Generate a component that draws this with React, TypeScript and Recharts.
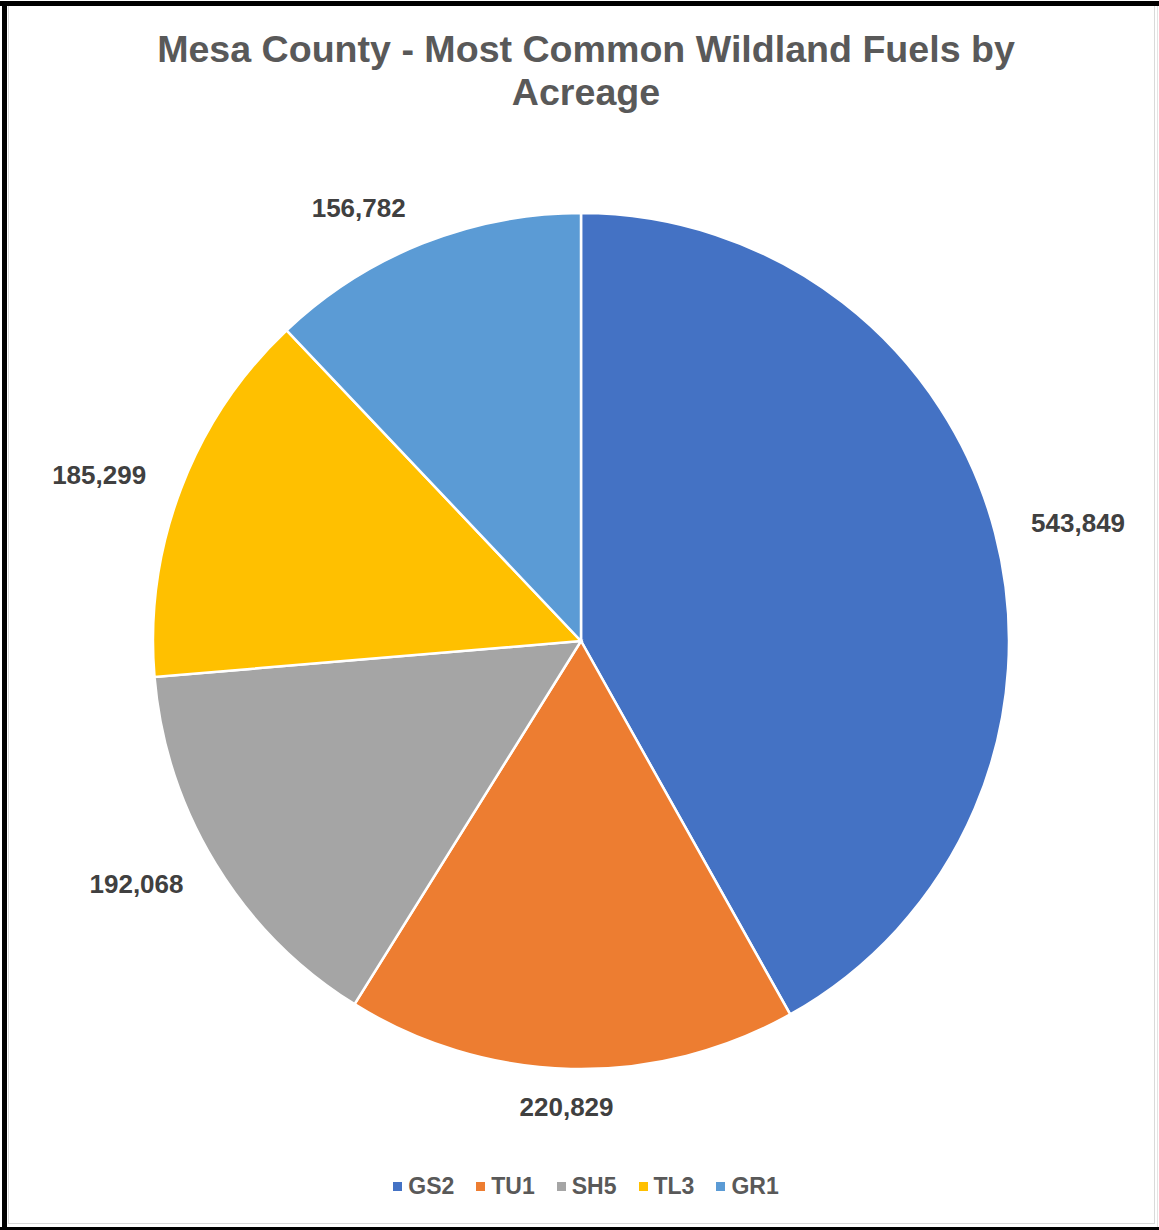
import { Cell, Legend, Pie, PieChart } from 'recharts';

const fuels = ['GS2', 'TU1', 'SH5', 'TL3', 'GR1'];
const acres = [543849, 220829, 192068, 185299, 156782];
const colors = ['#4472C4', '#ED7D31', '#A5A5A5', '#FFC000', '#5B9BD5'];

const data = fuels.map((name, i) => ({ name, value: acres[i] }));

const RAD = Math.PI / 180;
const clamp = (v: number) => Math.max(-1, Math.min(1, v));

// outside-end labels: box pushed off the radial point, like Excel does
const renderLabel = (props: any) => {
  const { cx, cy, midAngle, outerRadius, value } = props;
  const ux = Math.cos(-midAngle * RAD);
  const uy = Math.sin(-midAngle * RAD);
  const x = cx + (outerRadius + 32) * ux + 52 * clamp(ux * 3);
  const y = cy + (outerRadius + 30) * uy + 8 * uy;
  return (
    <text
      x={x}
      y={y}
      textAnchor="middle"
      dominantBaseline="central"
      fill="#404040"
      fontSize={26}
      fontWeight="bold"
      fontFamily="'Liberation Sans', Arial, sans-serif"
    >
      {value.toLocaleString('en-US')}
    </text>
  );
};

const renderLegend = (props: any) => {
  const items = [...(props.payload || [])].sort(
    (a: any, b: any) => fuels.indexOf(a.value) - fuels.indexOf(b.value),
  );
  return (
    <div style={{ display: 'flex', justifyContent: 'center', gap: 22 }}>
      {items.map((p: any) => (
        <div key={p.value} style={{ display: 'flex', alignItems: 'center' }}>
          <span style={{ width: 9, height: 9, background: p.color, marginRight: 6, display: 'inline-block' }} />
          <span style={{ fontSize: 23, fontWeight: 'bold', color: '#595959' }}>{p.value}</span>
        </div>
      ))}
    </div>
  );
};

export default function App() {
  return (
    <div
      style={{
        position: 'absolute',
        left: 0,
        top: 0,
        width: 1159,
        height: 1230,
        background: '#fff',
        fontFamily: "'Liberation Sans', Arial, sans-serif",
        overflow: 'hidden',
      }}
    >
      {/* frame */}
      <div style={{ position: 'absolute', left: 0, top: 1, width: 1159, height: 5, background: '#000' }} />
      <div style={{ position: 'absolute', left: 2, top: 1, width: 5, height: 1229, background: '#000' }} />
      <div style={{ position: 'absolute', left: 0, top: 1227, width: 1159, height: 3, background: '#000' }} />
      <div
        style={{
          position: 'absolute',
          left: 8,
          top: 6,
          width: 1145,
          height: 1217,
          border: '1px solid #d9d9d9',
          borderTop: 'none',
        }}
      />
      <div style={{ position: 'absolute', left: 1157, top: 6, width: 1, height: 1221, background: '#e4e4e4' }} />

      <div
        style={{
          position: 'absolute',
          left: 0,
          top: 28,
          width: 1172,
          textAlign: 'center',
          fontSize: 37.6,
          lineHeight: '43px',
          fontWeight: 'bold',
          color: '#595959',
        }}
      >
        Mesa County - Most Common Wildland Fuels by
        <br />
        Acreage
      </div>

      <div style={{ position: 'absolute', left: 0, top: 0 }}>
        <PieChart width={1159} height={1230} margin={{ top: 0, right: 0, bottom: 0, left: 0 }}>
          <Pie
            data={data}
            dataKey="value"
            nameKey="name"
            cx={581}
            cy={641}
            outerRadius={428}
            startAngle={90}
            endAngle={-270}
            stroke="#fff"
            strokeWidth={2.5}
            label={renderLabel}
            labelLine={false}
            isAnimationActive={false}
          >
            {data.map((d, i) => (
              <Cell key={d.name} fill={colors[i]} />
            ))}
          </Pie>
          <Legend
            content={renderLegend}
            wrapperStyle={{ position: 'absolute', left: 0, top: 1173, width: 1172 }}
          />
        </PieChart>
      </div>
    </div>
  );
}
